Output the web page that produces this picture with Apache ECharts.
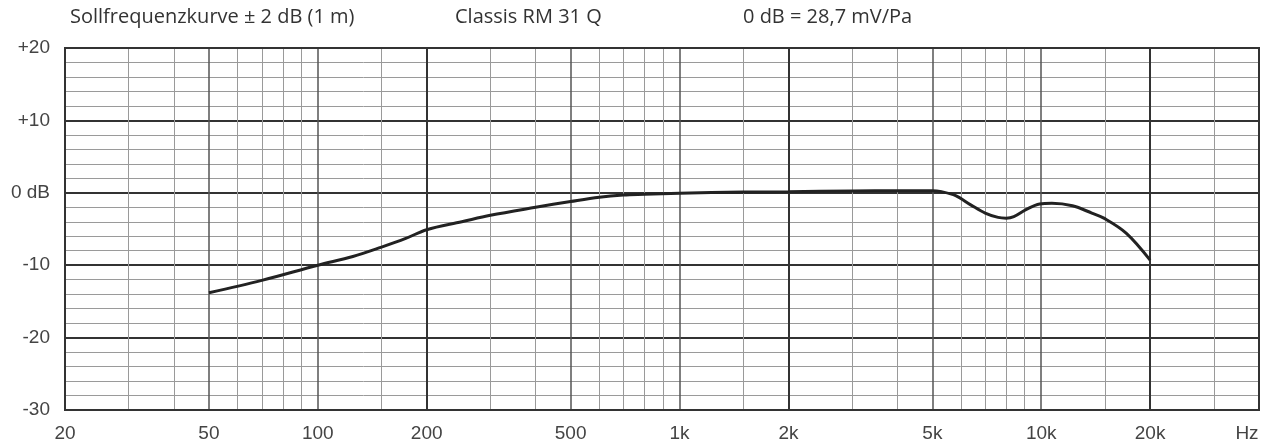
<!DOCTYPE html>
<html>
<head>
<meta charset="utf-8">
<script src="https://cdn.jsdelivr.net/npm/echarts@6/dist/echarts.min.js"></script>
<style>html,body{margin:0;padding:0;background:#fff}#c{width:1269px;height:445px}</style>
</head>
<body>
<div id="c"></div>
<script>
// Frequency response (Hz -> dB)
var freqs = [50, 70, 100, 125, 150, 175, 200, 250, 300, 400, 500, 600, 700, 800, 1000, 1500, 2000, 3000, 4000, 5000, 5300, 5800, 6400, 7000, 7600, 8000, 8400, 9100, 9900, 10700, 12200, 13800, 14900, 17200, 20000];
var levels = [-13.8, -12.1, -10.0, -8.8, -7.5, -6.3, -5.1, -4.0, -3.1, -2.0, -1.2, -0.6, -0.3, -0.2, -0.05, 0.1, 0.15, 0.25, 0.3, 0.3, 0.15, -0.4, -1.7, -2.8, -3.4, -3.5, -3.3, -2.3, -1.55, -1.45, -1.8, -2.8, -3.5, -5.6, -9.3];

var majorFreqLines = [20, 200, 2000, 20000, 40000];
var mediumFreqLines = [50, 100, 500, 1000, 5000, 10000];
var minorFreqLines = [30, 40, 60, 70, 80, 90, 150, 300, 400, 600, 700, 800, 900, 1500, 3000, 4000, 6000, 7000, 8000, 9000, 15000, 30000];
var xTickValues = [20, 50, 100, 200, 500, 1000, 2000, 5000, 10000, 20000];
var xTickLabels = ['20', '50', '100', '200', '500', '1k', '2k', '5k', '10k', '20k'];
var yTickLabels = {'20': '+20', '10': '+10', '0': '0 dB', '-10': '-10', '-20': '-20', '-30': '-30'};
var titles = ['Sollfrequenzkurve \u00b1 2 dB (1 m)', 'Classis RM 31 Q', '0 dB = 28,7 mV/Pa'];
var unitLabel = 'Hz';

var chart = echarts.init(document.getElementById('c'), null, {renderer: 'canvas'});
var labelFont = 'Liberation Sans, Arial, sans-serif';
var titleFont = '20px "Open Sans", sans-serif';

function vLines(list, style) {
  return list.map(function (f) { return {xAxis: f, lineStyle: style}; });
}

var option = {
  animation: false,
  backgroundColor: '#fff',
  grid: {left: 65, top: 48, right: 10, bottom: 35, show: true, borderColor: '#333', borderWidth: 2, backgroundColor: 'transparent', z: 3},
  graphic: [
    {type: 'text', x: 70, y: 17, style: {text: titles[0], font: titleFont, fill: '#333', textVerticalAlign: 'middle'}},
    {type: 'text', x: 455, y: 17, style: {text: titles[1], font: titleFont, fill: '#333', textVerticalAlign: 'middle'}},
    {type: 'text', x: 743, y: 17, style: {text: titles[2], font: titleFont, fill: '#333', textVerticalAlign: 'middle'}},
    {type: 'text', x: 1247, y: 434, style: {text: unitLabel, font: '19px ' + labelFont, fill: '#444', textAlign: 'center', textVerticalAlign: 'middle'}}
  ],
  xAxis: {
    type: 'log', logBase: 10, min: 20, max: 40000,
    axisLine: {show: false}, axisTick: {show: false}, axisLabel: {show: false},
    splitLine: {show: false}, minorSplitLine: {show: false}
  },
  yAxis: {
    type: 'value', min: -30, max: 20, interval: 10,
    axisLine: {show: false}, axisTick: {show: false},
    axisLabel: {
      margin: 15, color: '#444', fontSize: 19, fontFamily: labelFont,
      formatter: function (v) { return yTickLabels[String(v)]; }
    },
    splitLine: {show: true, lineStyle: {color: '#333', width: 2}},
    minorTick: {show: false, splitNumber: 5},
    minorSplitLine: {show: true, lineStyle: {color: '#9a9a9a', width: 1}}
  },
  series: [
    {
      type: 'line', data: [], silent: true, z: 1,
      markLine: {
        silent: true, symbol: 'none', z: 1, animation: false,
        label: {show: false},
        data: [].concat(
          vLines(minorFreqLines, {color: '#9a9a9a', width: 1, type: 'solid'}),
          vLines(mediumFreqLines, {color: '#555', width: 1.5, type: 'solid'}),
          vLines(majorFreqLines, {color: '#333', width: 2, type: 'solid'})
        )
      }
    },
    {
      type: 'line', data: [], silent: true, z: 1,
      markLine: {
        silent: true, symbol: 'none', z: 1, animation: false,
        lineStyle: {color: 'rgba(0,0,0,0)', width: 1},
        label: {show: true, position: 'start', distance: 14, formatter: '{b}', color: '#444', fontSize: 19, fontFamily: labelFont},
        data: xTickValues.map(function (f, i) { return {xAxis: f, name: xTickLabels[i]}; })
      }
    },
    {
      type: 'line', z: 5, silent: true,
      data: freqs.map(function (f, i) { return [f, levels[i]]; }),
      smooth: 0.35, showSymbol: false, symbol: 'none',
      lineStyle: {color: '#222', width: 3}
    }
  ]
};
chart.setOption(option);
</script>
</body>
</html>
